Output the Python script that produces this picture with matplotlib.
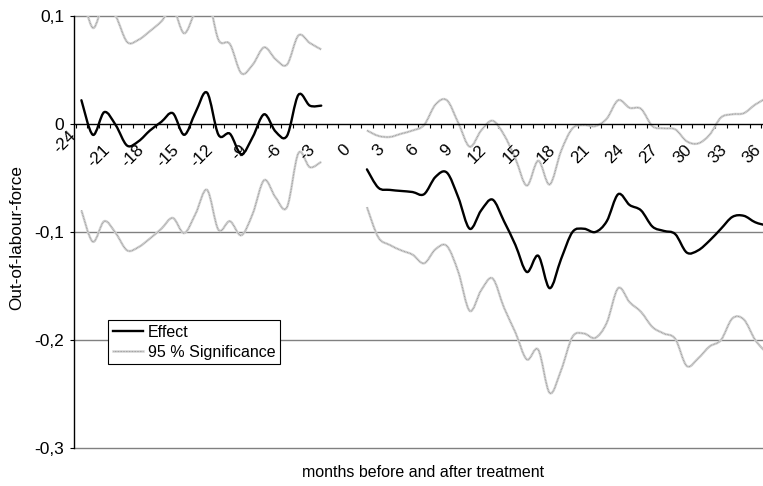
import numpy as np
import matplotlib
matplotlib.use('Agg')
import matplotlib.pyplot as plt
from matplotlib.path import Path
from matplotlib.patches import PathPatch
from matplotlib.lines import Line2D
from matplotlib.legend_handler import HandlerTuple

plt.rcParams['font.family'] = ['Liberation Sans', 'DejaVu Sans']
plt.rcParams['font.size'] = 12.3

# months relative to treatment
months_pre = list(range(-24, -2))
months_post = list(range(1, 37))

effect_pre = [0.022, -0.010, 0.011, -0.001, -0.020, -0.016, -0.006, 0.002, 0.010, -0.010, 0.011,
              0.029, -0.010, -0.009, -0.028, -0.012, 0.009, -0.007, -0.011, 0.027, 0.017, 0.017]
upper_pre = [0.124, 0.089, 0.112, 0.100, 0.076, 0.078, 0.086, 0.095, 0.107, 0.084, 0.105,
             0.119, 0.078, 0.074, 0.047, 0.055, 0.071, 0.060, 0.055, 0.082, 0.075, 0.069]
lower_pre = [-0.080, -0.109, -0.090, -0.101, -0.117, -0.114, -0.106, -0.097, -0.087, -0.101, -0.083,
             -0.061, -0.098, -0.090, -0.103, -0.083, -0.052, -0.068, -0.077, -0.027, -0.040, -0.035]

effect_post = [-0.042, -0.059, -0.061, -0.062, -0.063, -0.065, -0.049, -0.045, -0.068, -0.097,
               -0.080, -0.070, -0.090, -0.112, -0.137, -0.122, -0.152, -0.125, -0.100, -0.097,
               -0.100, -0.090, -0.065, -0.075, -0.080, -0.095, -0.099, -0.102, -0.119, -0.117,
               -0.108, -0.097, -0.086, -0.085, -0.091, -0.094]
upper_post = [-0.006, -0.011, -0.012, -0.009, -0.006, -0.001, 0.018, 0.022, 0.001, -0.021,
              -0.006, 0.003, -0.010, -0.032, -0.057, -0.034, -0.056, -0.025, -0.004, -0.001,
              -0.002, 0.005, 0.022, 0.015, 0.014, -0.002, -0.004, -0.005, -0.016, -0.018,
              -0.010, 0.006, 0.009, 0.010, 0.018, 0.024]
lower_post = [-0.077, -0.105, -0.112, -0.117, -0.121, -0.129, -0.116, -0.113, -0.137, -0.173,
              -0.154, -0.143, -0.170, -0.193, -0.218, -0.209, -0.249, -0.228, -0.197, -0.194,
              -0.198, -0.184, -0.152, -0.165, -0.174, -0.188, -0.194, -0.199, -0.224, -0.217,
              -0.206, -0.200, -0.180, -0.181, -0.200, -0.212]

tick_months = list(range(-24, 37, 3))
tick_labels = [str(m) for m in tick_months]
y_ticks = [0.1, 0, -0.1, -0.2, -0.3]
y_labels = ['0,1', '0', '-0,1', '-0,2', '-0,3']


def smooth_path(xs, ys):
    # smoothed line like excel (bezier through the points)
    pts = np.column_stack([xs, ys]).astype(float)
    n = len(pts)
    verts = [pts[0]]
    codes = [Path.MOVETO]
    for i in range(n - 1):
        p0 = pts[max(i - 1, 0)]
        p1 = pts[i]
        p2 = pts[i + 1]
        p3 = pts[min(i + 2, n - 1)]
        verts += [p1 + (p2 - p0) / 6, p2 - (p3 - p1) / 6, p2]
        codes += [Path.CURVE4] * 3
    return Path(verts, codes)


def draw_effect(ax, xs, ys):
    ax.add_patch(PathPatch(smooth_path(xs, ys), fill=False, edgecolor='black', lw=1.7,
                           capstyle='round', zorder=4))


def draw_band(ax, xs, ys):
    ax.add_patch(PathPatch(smooth_path(xs, ys), fill=False, edgecolor='#d6d6d6', lw=1.8, zorder=3))
    ax.add_patch(PathPatch(smooth_path(xs, ys), fill=False, edgecolor='#969696', lw=0.8,
                           linestyle=(0, (0.7, 0.7)), zorder=3))


fig = plt.figure(figsize=(7.63, 4.86), dpi=100)
ax = fig.add_axes([74 / 763, 38 / 486, 689 / 763, 432 / 486])
ax.set_xlim(-24.65, 35.68)
ax.set_ylim(-0.3, 0.1)

for v in y_ticks:
    if v != 0:
        ax.axhline(v, color='#808080', lw=1.0, zorder=1, clip_on=False)

draw_band(ax, months_pre, upper_pre)
draw_band(ax, months_pre, lower_pre)
draw_band(ax, months_post, upper_post)
draw_band(ax, months_post, lower_post)
draw_effect(ax, months_pre, effect_pre)
draw_effect(ax, months_post, effect_post)

for s in ['top', 'right']:
    ax.spines[s].set_visible(False)
ax.spines['bottom'].set_position(('data', 0))
ax.spines['bottom'].set_zorder(5)
ax.spines['left'].set_linewidth(1.0)
ax.spines['bottom'].set_linewidth(1.0)

ax.set_yticks(y_ticks, y_labels)
ax.tick_params(axis='y', direction='out', length=3, width=0.8, pad=4, labelsize=12.5)

ax.set_xticks([])
ax.set_xticks(np.arange(-24.5, 36, 1), minor=True)
ax.tick_params(axis='x', which='minor', direction='out', length=3, width=0.8)

for m, lab in zip(tick_months, tick_labels):
    dy = -3 if m == -24 else -13
    ax.annotate(lab, xy=(m, 0), xycoords='data', xytext=(-2, dy), textcoords='offset points',
                rotation=45, ha='right', va='top', annotation_clip=False, fontsize=12.3)

fig.text(0.022, 0.511, 'Out-of-labour-force', rotation=90, ha='center', va='center', fontsize=12.3)
fig.text(423 / 763, 1 - 472 / 486, 'months before and after treatment', ha='center', va='center',
         fontsize=11.5)

h_eff = Line2D([], [], color='black', lw=1.7)
h_sig = (Line2D([], [], color='#d6d6d6', lw=1.8),
         Line2D([], [], color='#969696', lw=0.8, linestyle=(0, (0.7, 0.7))))
leg = ax.legend([h_eff, h_sig], ['Effect', '95 % Significance'],
                handler_map={tuple: HandlerTuple(ndivide=1)},
                loc='upper left', bbox_to_anchor=(108 / 763, 1 - 320 / 486),
                bbox_transform=fig.transFigure, borderaxespad=0, fancybox=False,
                framealpha=1, edgecolor='black', borderpad=0.3, handlelength=1.9,
                handletextpad=0.3, labelspacing=0.3, fontsize=11.5)
leg.get_frame().set_linewidth(0.8)

fig.savefig('out.png', dpi=100)
